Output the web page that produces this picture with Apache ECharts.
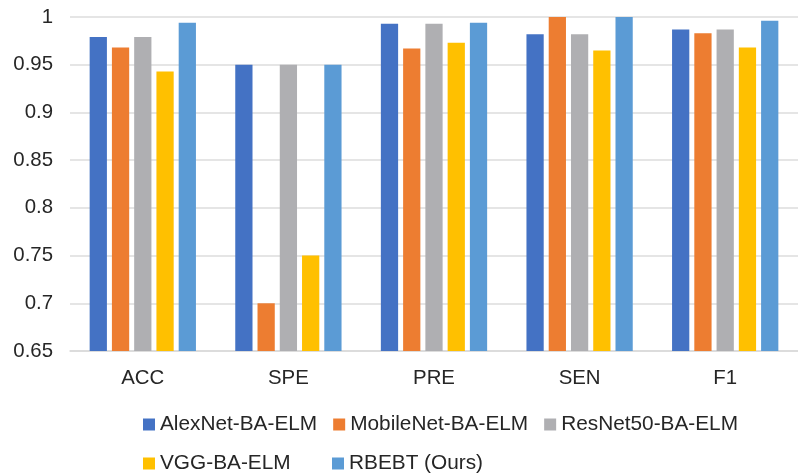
<!DOCTYPE html>
<html>
<head>
<meta charset="utf-8">
<script src="https://cdn.jsdelivr.net/npm/echarts@6/dist/echarts.min.js"></script>
<style>
  html, body { margin: 0; padding: 0; background: #fff; }
  #chart { width: 798px; height: 476px; }
</style>
</head>
<body>
<div id="chart"></div>
<script>
  // categories and values
  var metrics = ['ACC', 'SPE', 'PRE', 'SEN', 'F1'];
  var alexnet = [0.979, 0.95, 0.993, 0.982, 0.987];
  var mobilenet = [0.968, 0.70, 0.967, 1.0, 0.983];
  var resnet50 = [0.979, 0.95, 0.993, 0.982, 0.987];
  var vgg = [0.943, 0.75, 0.973, 0.965, 0.968];
  var rbebt = [0.994, 0.95, 0.994, 1.0, 0.996];
  var seriesNames = ['AlexNet-BA-ELM', 'MobileNet-BA-ELM', 'ResNet50-BA-ELM', 'VGG-BA-ELM', 'RBEBT (Ours)'];
  var seriesData = [alexnet, mobilenet, resnet50, vgg, rbebt];
  var colors = ['#4472C4', '#ED7D31', '#AFAFB2', '#FFC000', '#5B9BD5'];

  var chart = echarts.init(document.getElementById('chart'));

  var legendBase = {
    itemWidth: 12,
    itemHeight: 12,
    itemGap: 16,
    padding: 0,
    icon: 'rect',
    selectedMode: false,
    textStyle: {
      color: '#262626',
      fontSize: 20.8,
      fontFamily: 'Liberation Sans'
    }
  };

  var option = {
    animation: false,
    color: colors,
    legend: [
      Object.assign({}, legendBase, { left: 143, top: 414, data: seriesNames.slice(0, 3) }),
      Object.assign({}, legendBase, { left: 143, top: 453, data: [seriesNames[3]] }),
      Object.assign({}, legendBase, { left: 332, top: 453, data: [seriesNames[4]] })
    ],
    grid: {
      left: 70,
      top: 17,
      width: 741,
      height: 334
    },
    xAxis: {
      type: 'category',
      data: metrics,
      axisTick: { show: false },
      axisLine: {
        lineStyle: { color: '#d9d9d9', width: 1.5 }
      },
      axisLabel: {
        color: '#262626',
        fontSize: 20.4,
        fontFamily: 'Liberation Sans',
        margin: 17
      }
    },
    yAxis: {
      type: 'value',
      min: 0.65,
      max: 1,
      interval: 0.05,
      axisLine: { show: false },
      axisTick: { show: false },
      axisLabel: {
        color: '#262626',
        fontSize: 20.4,
        fontFamily: 'Liberation Sans',
        margin: 17
      },
      splitLine: {
        lineStyle: { color: '#dcdcdc', width: 1.5 }
      }
    },
    series: seriesNames.map(function (name, i) {
      return {
        name: name,
        type: 'bar',
        data: seriesData[i],
        barGap: '29%',
        barCategoryGap: '27%',
        itemStyle: { color: colors[i] }
      };
    })
  };

  chart.setOption(option);
</script>
</body>
</html>
